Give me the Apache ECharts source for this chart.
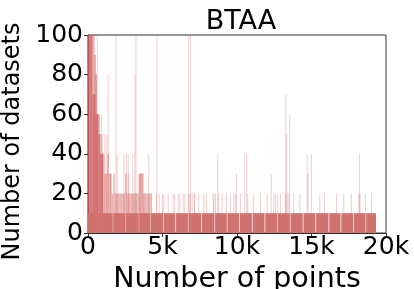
<!DOCTYPE html>
<html><head><meta charset="utf-8">
<script src="https://cdn.jsdelivr.net/npm/echarts@6/dist/echarts.min.js"></script>
<style>html,body{margin:0;padding:0;background:#fff}#c{width:414px;height:289px}</style>
</head><body><div id="c"></div>
<script>
const title = 'BTAA';
const xName = 'Number of points';
const yName = 'Number of datasets';
const xTickValues = [0, 5000, 10000, 15000, 20000];
const xTickLabels = ['0', '5k', '10k', '15k', '20k'];
const yTickValues = [0, 20, 40, 60, 80, 100];

// histogram bins of 100 points, starting at 0
const binSize = 100;
const coreCounts = [100, 100, 100, 70, 70, 60, 60, 50, 40, 40];
const fringeCounts = [100, 100, 100, 100, 90, 80, 60, 60, 50, 40, 40, 30, 30, 40, 30, 30, 20, 30, 20, 20,
  20, 20, 20, 20, 20, 30, 20, 20, 20, 20, 20, 20, 20, 20, 30, 30, 30, 20, 20, 20, 20, 20, 20];

// flat floor of 10 datasets, split where the bins show thin gaps
const baseCount = 10;
const baseEdges = [0, 920, 1650, 2500, 3400, 4180, 5040, 5860, 6730, 7600, 8480, 9310, 10130,
  11000, 11850, 12700, 13540, 14410, 15260, 16140, 16950, 17790, 18620, 19330];

// isolated thin bins: [number of points, number of datasets]
const spikes = [
  [400, 100], [470, 90], [520, 80], [584, 100], [870, 60], [950, 50], [1095, 50], [1240, 50],
  [1322, 80], [1476, 30], [1845, 100], [1925, 40], [2370, 40], [2530, 40], [2664, 40], [2705, 30],
  [2975, 40], [3120, 80], [3187, 100], [3420, 30], [3500, 30], [3600, 30], [3710, 30], [4046, 40],
  [4563, 20], [4596, 100], [4744, 20], [4966, 20], [5055, 20], [5350, 20], [5684, 20], [5791, 20],
  [6020, 20], [6127, 20], [6352, 20], [6463, 20], [6689, 20], [6730, 100], [6797, 20], [6844, 100],
  [6958, 20], [7113, 20], [7133, 20], [7401, 20], [7737, 20], [7918, 20], [8368, 20], [8420, 20],
  [8522, 20], [8676, 40], [8743, 20], [8971, 20], [9259, 20], [9528, 20], [9750, 20], [9864, 20],
  [9930, 30], [10199, 20], [10490, 40], [10620, 40], [10689, 20], [11092, 20], [11541, 20],
  [11991, 20], [12260, 30], [12434, 20], [12548, 20], [12702, 20], [12883, 20], [13218, 20],
  [13240, 70], [13306, 50], [13330, 20], [13440, 20], [13507, 60], [13775, 20], [14178, 20],
  [14675, 40], [14740, 30], [14963, 40], [15522, 20], [15836, 20], [16641, 20], [17132, 20],
  [17647, 20], [18151, 20], [18185, 40], [18230, 20], [18587, 20], [18990, 20]
];

const spikeWidth = 60;
const baseGap = 50;

function binData(counts) {
  return counts.map((c, i) => [i * binSize, (i + 1) * binSize, c]);
}
const baseData = [];
for (let i = 0; i < baseEdges.length - 1; i++) {
  baseData.push([baseEdges[i] + (i ? baseGap : 0), baseEdges[i + 1], baseCount]);
}
const spikeData = spikes.map(s => [s[0], s[0] + spikeWidth, s[1]]);

function rectItem(minW) {
  return function (params, api) {
    const p0 = api.coord([api.value(0), api.value(2)]);
    const p1 = api.coord([api.value(1), 0]);
    let w = p1[0] - p0[0];
    if (w < minW) w = minW;
    return {
      type: 'rect',
      shape: { x: p0[0], y: p0[1], width: w, height: p1[1] - p0[1] },
      style: api.style()
    };
  };
}

const font = 'DejaVu Sans';
const chart = echarts.init(document.getElementById('c'), null, { renderer: 'canvas' });
chart.setOption({
  animation: false,
  title: {
    text: title, left: 236, top: 3, textAlign: 'center',
    textStyle: { fontFamily: font, fontSize: 27, fontWeight: 'normal', color: '#000' }
  },
  grid: {
    left: 88, right: 28, top: 35, bottom: 56, outerBoundsMode: 'none',
    show: true, borderColor: '#333', borderWidth: 1, backgroundColor: 'transparent'
  },
  xAxis: {
    type: 'value', min: 0, max: 20000, interval: 5000,
    name: xName, nameLocation: 'middle', nameGap: 22,
    nameTextStyle: { fontFamily: font, fontSize: 28.5, color: '#000' },
    axisLine: { show: true, lineStyle: { color: '#333', width: 1 } },
    axisTick: { show: true, inside: false, length: 4, lineStyle: { color: '#333' } },
    axisLabel: {
      fontFamily: font, fontSize: 25, color: '#000', margin: 2,
      formatter: v => xTickLabels[xTickValues.indexOf(v)]
    },
    splitLine: { show: false }
  },
  yAxis: {
    type: 'value', min: 0, max: 100, interval: 20,
    name: yName, nameLocation: 'middle', nameGap: 58,
    nameTextStyle: { fontFamily: font, fontSize: 24, color: '#000', padding: [0, 15, 0, 0] },
    axisLine: { show: true, lineStyle: { color: '#333', width: 1 } },
    axisTick: { show: true, inside: false, length: 4, lineStyle: { color: '#333' } },
    axisLabel: {
      fontFamily: font, fontSize: 25, color: '#000', margin: 5,
      formatter: v => yTickValues.indexOf(v) >= 0 ? String(v) : ''
    },
    splitLine: { show: false }
  },
  series: [
    {
      type: 'custom', name: 'fringe', renderItem: rectItem(0), data: binData(fringeCounts),
      encode: { x: [0, 1], y: 2 }, itemStyle: { color: 'rgba(205,92,92,0.45)' }, z: 1
    },
    {
      type: 'custom', name: 'spikes', renderItem: rectItem(1), data: spikeData,
      encode: { x: [0, 1], y: 2 }, itemStyle: { color: 'rgba(205,92,92,0.3)' }, z: 2
    },
    {
      type: 'custom', name: 'core', renderItem: rectItem(0), data: binData(coreCounts),
      encode: { x: [0, 1], y: 2 }, itemStyle: { color: 'rgba(205,92,92,0.7)' }, z: 3
    },
    {
      type: 'custom', name: 'base', renderItem: rectItem(0), data: baseData,
      encode: { x: [0, 1], y: 2 }, itemStyle: { color: '#d0736e' }, z: 4
    }
  ]
});
</script>
</body></html>
